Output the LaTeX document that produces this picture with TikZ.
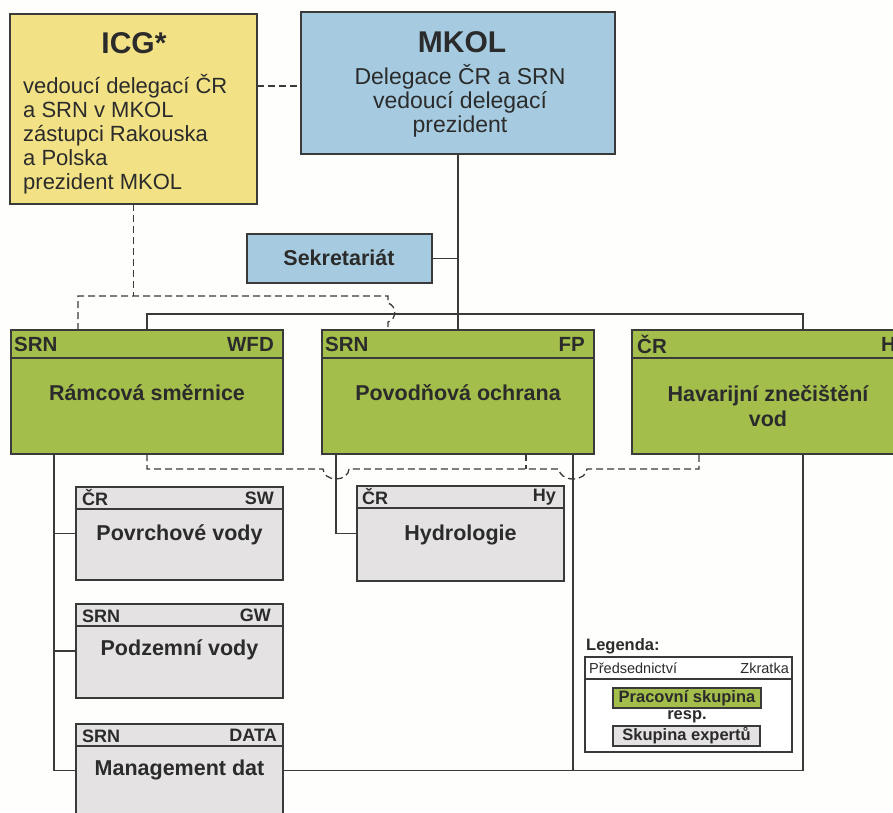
\documentclass[tikz,border=0pt]{standalone}
\usepackage{fontspec}
\setmainfont{Liberation Sans}
\usetikzlibrary{calc}
\definecolor{icgY}{HTML}{F2E285}
\definecolor{mkB}{HTML}{A6CBE0}
\definecolor{grn}{HTML}{A4BE4C}
\definecolor{gry}{HTML}{E4E2E2}
\definecolor{edge}{HTML}{3A3A3A}
\definecolor{txt}{HTML}{2B2B2B}
\definecolor{bg}{HTML}{FEFEFC}
\begin{document}
\begin{tikzpicture}[x=1pt,y=-1pt,
  every node/.append style={text=txt},
  box/.style={draw=edge,line width=1.4pt,inner sep=0pt,outer sep=0pt},
  hl/.style={draw=edge,line width=1.4pt},
  ln/.style={draw=edge,line width=1.3pt},
  dsh/.style={draw=edge,line width=1.3pt,dash pattern=on 7pt off 4pt},
  ftitle/.style={font=\fontsize{30}{34}\selectfont\bfseries},
  ficg/.style={font=\fontsize{22}{24}\selectfont},
  fmk/.style={font=\fontsize{23}{24}\selectfont},
  fbold/.style={font=\fontsize{21.5}{25}\selectfont\bfseries},
  fhead/.style={font=\fontsize{20.5}{22}\selectfont\bfseries},
  fghead/.style={font=\fontsize{18}{20}\selectfont\bfseries},
  fleg/.style={font=\fontsize{16.5}{18}\selectfont\bfseries},
  flegs/.style={font=\fontsize{14.5}{16}\selectfont},
  tx/.style={inner sep=0pt}
]
\useasboundingbox (0,0) rectangle (893,812);
\clip (0,0) rectangle (893,812);
\fill[bg] (0,0) rectangle (893,812);

% ---- top boxes
\node[box,fill=icgY,minimum width=247,minimum height=190] (icg) at (133.5,109) {};
\node[tx,ftitle] (icgT) at (134,43) {ICG*};
\node[tx,ficg,align=left,anchor=west] (icgB) at (23,134)
  {vedoucí delegací ČR\\a SRN v MKOL\\zástupci Rakouska\\a Polska\\prezident MKOL};

\node[box,fill=mkB,minimum width=314,minimum height=142] (mkol) at (458,83) {};
\node[tx,ftitle] (mkolT) at (462,42) {MKOL};
\node[tx,fmk,align=center] (mkolB) at (460,101)
  {Delegace ČR a SRN\\vedoucí delegací\\prezident};

\node[box,fill=mkB,minimum width=185,minimum height=49] (sek) at (339.5,258.5) {};
\node[tx,fbold] (sekT) at (339,258) {Sekretariát};

% ---- green boxes
\node[box,fill=grn,minimum width=272,minimum height=124] (wfd) at (147,392) {};
\node[box,fill=grn,minimum width=272,minimum height=124] (fp) at (458,392) {};
\node[box,fill=grn,minimum width=272,minimum height=124] (hz) at (768,392) {};
\foreach \b in {wfd,fp,hz}{
  \draw[hl] ($(\b.north west)+(0,28)$) -- ($(\b.north east)+(0,28)$);
}
\node[tx,fhead,anchor=west] (wfdL) at ($(wfd.north west)+(3,14)$) {SRN};
\node[tx,fhead,anchor=east] (wfdR) at ($(wfd.north east)+(-9,14)$) {WFD};
\node[tx,fbold] (wfdT) at ($(wfd.north)+(0,63)$) {Rámcová směrnice};
\node[tx,fhead,anchor=west] (fpL) at ($(fp.north west)+(3,14)$) {SRN};
\node[tx,fhead,anchor=east] (fpR) at ($(fp.north east)+(-9,14)$) {FP};
\node[tx,fbold] (fpT) at ($(fp.north)+(0,63)$) {Povodňová ochrana};
\node[tx,fhead,anchor=west] (hzL) at ($(hz.north west)+(5,14)$) {ČR};
\node[tx,fhead,anchor=west] (hzR) at (881,344) {H};
\node[tx,fbold,align=center] (hzT) at ($(hz.north)+(0,76)$) {Havarijní znečištění\\vod};

% ---- grey boxes
\node[box,fill=gry,minimum width=207,minimum height=93] (sw) at (179.5,533.5) {};
\node[box,fill=gry,minimum width=207,minimum height=94] (gw) at (179.5,651) {};
\node[box,fill=gry,minimum width=207,minimum height=93] (data) at (179.5,770.5) {};
\node[box,fill=gry,minimum width=207,minimum height=95] (hy) at (460.5,533.5) {};
\foreach \b in {sw,gw,data,hy}{
  \draw[hl] ($(\b.north west)+(0,22)$) -- ($(\b.north east)+(0,22)$);
}
\node[tx,fghead,anchor=west] (swL) at ($(sw.north west)+(6,11)$) {ČR};
\node[tx,fghead,anchor=east] (swR) at ($(sw.north east)+(-9,11)$) {SW};
\node[tx,fbold] (swT) at ($(sw.north)+(0,48)$) {Povrchové vody};
\node[tx,fghead,anchor=west] (gwL) at ($(gw.north west)+(6,12)$) {SRN};
\node[tx,fghead,anchor=east] (gwR) at ($(gw.north east)+(-12,11)$) {GW};
\node[tx,fbold] (gwT) at ($(gw.north)+(0,46)$) {Podzemní vody};
\node[tx,fghead,anchor=west] (dataL) at ($(data.north west)+(6,12)$) {SRN};
\node[tx,fghead,anchor=east] (dataR) at ($(data.north east)+(-6,11)$) {DATA};
\node[tx,fbold] (dataT) at ($(data.north)+(0,46)$) {Management dat};
\node[tx,fghead,anchor=west] (hyL) at ($(hy.north west)+(5,11)$) {ČR};
\node[tx,fghead,anchor=east] (hyR) at ($(hy.north east)+(-8,11)$) {Hy};
\node[tx,fbold] (hyT) at ($(hy.north)+(0,49)$) {Hydrologie};

% ---- legend
\node[tx,fleg,anchor=west] (legT) at (586,646) {Legenda:};
\node[box,fill=white,minimum width=207,minimum height=95] (leg) at (688.5,704.5) {};
\draw[hl] ($(leg.north west)+(0,22)$) -- ($(leg.north east)+(0,22)$);
\node[tx,flegs,anchor=west] (legP) at ($(leg.north west)+(4,11)$) {Předsednictví};
\node[tx,flegs,anchor=east] (legZ) at ($(leg.north east)+(-3,11)$) {Zkratka};
\node[box,line width=1.2pt,fill=grn,minimum width=148,minimum height=20,fleg] (legG) at (687,698) {Pracovní skupina};
\node[tx,fleg] (legR) at (687,717) {resp.};
\node[box,line width=1.2pt,fill=gry,minimum width=147,minimum height=20,fleg] (legE) at (686.5,736) {Skupina expertů};

% ---- coordinates for connector ends
\coordinate (v0) at ($(wfd.south west)+(43,0)$);
\coordinate (v1) at ($(fp.south west)+(14,0)$);
\coordinate (v2) at ($(fp.south east)+(-21,0)$);
\coordinate (v3) at ($(hz.south)+(35,0)$);
\coordinate (fpb) at ($(fp.south)+(68,0)$);
\coordinate (hzb) at ($(hz.south)+(-69,0)$);
\coordinate (fpd) at ($(fp.north)+(-70,0)$);

% ---- solid connectors
\draw[ln] (mkol.south) -- (fp.north);
\draw[ln] (sek.east) -- (sek.east -| mkol.south);
\draw[ln] (wfd.north) -- ++(0,-16) -| ($(hz.north)+(35,0)$);
\draw[ln] (v0) |- (data.west);
\draw[ln] (sw.west) -- (sw.west -| v0);
\draw[ln] (gw.west) -- (gw.west -| v0);
\draw[ln] (v1) |- (hy.west);
\draw[ln] (v2) -- (v2 |- data.east);
\draw[ln] (v3) |- (data.east);

% ---- dashed connectors
\draw[dsh] ([yshift=23pt]icg.east) -- ([yshift=23pt]icg.east -| mkol.west);
\draw[dsh] (icg.south) -- ++(0,92) coordinate (jt);
\draw[dsh] ($(wfd.north)+(-69,0)$) |- (jt) -- (jt -| fpd) -- ++(0,7)
  .. controls +(9,3) and +(9,-3) .. ++(0,19) -- (fpd);
\draw[dsh] (wfd.south) -- ++(0,15) coordinate (d0)
  -- ($(d0 -| v1)+(-13,0)$) arc[start angle=180,end angle=0,x radius=13,y radius=10]
  -- ($(d0 -| v2)+(-14,0)$) arc[start angle=180,end angle=0,x radius=14,y radius=10]
  -- (d0 -| hzb) -- (hzb);
\draw[dsh] (fpb) -- (d0 -| fpb);
\end{tikzpicture}
\end{document}
